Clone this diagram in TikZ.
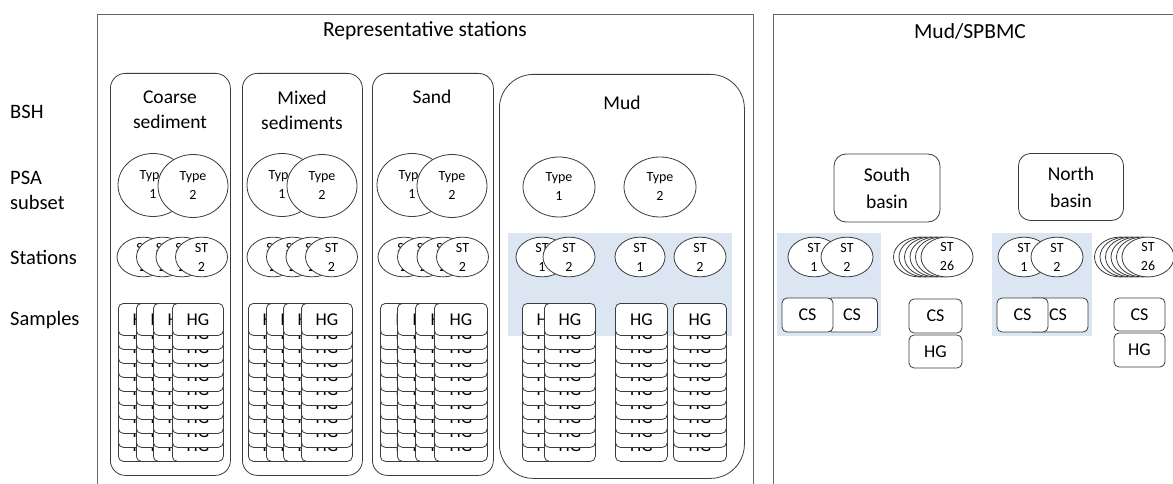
\documentclass[tikz,border=0pt]{standalone}
\usepackage{fontspec}
\setmainfont{Carlito}
\usetikzlibrary{shapes.geometric}
\definecolor{paleblue}{RGB}{220,230,242}
\definecolor{edge}{RGB}{60,60,60}
\begin{document}
\begin{tikzpicture}[x=1pt,y=-1pt,
  outerbox/.style={draw=black!60, line width=1.1pt, anchor=north west, inner sep=0pt},
  groupbox/.style={draw=edge, line width=0.8pt, rounded corners=15pt, anchor=north west, inner sep=0pt},
  bigtext/.style={font=\fontsize{19.5}{25}\selectfont, align=center, inner sep=0pt},
  titletext/.style={font=\fontsize{21.5}{25}\selectfont, align=center, inner sep=0pt},
  rowlabel/.style={font=\fontsize{20.5}{25}\selectfont, align=left, anchor=west, inner sep=0pt},
  typecirc/.style={ellipse, draw=edge, line width=0.8pt, fill=white, minimum width=70pt, minimum height=63pt, inner sep=0pt, align=center, font=\fontsize{14}{19}\selectfont},
  stell/.style={ellipse, draw=edge, line width=0.8pt, fill=white, minimum width=52pt, minimum height=37pt, inner sep=0pt, align=center, font=\fontsize{14}{19}\selectfont},
  hgbox/.style={draw=edge, line width=0.8pt, fill=white, rounded corners=5pt, minimum width=51pt, minimum height=32pt, inner sep=0pt, anchor=north west, font=\fontsize{18}{20}\selectfont},
  csbox/.style={draw=edge, line width=0.8pt, fill=white, rounded corners=5pt, minimum height=34pt, inner sep=0pt, font=\fontsize{18}{20}\selectfont},
  bluebg/.style={fill=paleblue, draw=none, anchor=north west, inner sep=0pt}
]
\useasboundingbox (0,0) rectangle (1173,484);
\fill[white] (0,0) rectangle (1173,484);

% outer boxes
\node[outerbox, minimum width=656pt, minimum height=490pt] (rep) at (97,14) {};
\node[outerbox, minimum width=420pt, minimum height=490pt] (mudsp) at (773,14) {};
\node[titletext] (reptitle) at (425,31) {Representative stations};
\node[titletext] (mudsptitle) at (970,31) {Mud/SPBMC};

% row labels
\node[rowlabel] (lbsh) at (10,112) {BSH};
\node[rowlabel] (lpsa) at (10,190) {PSA\\subset};
\node[rowlabel] (lst) at (10,257) {Stations};
\node[rowlabel] (lsa) at (10,320) {Samples};

% group boxes
\node[groupbox, minimum width=120pt, minimum height=402pt] (coarse) at (110,73) {};
\node[groupbox, minimum width=120pt, minimum height=402pt] (mixed) at (242,73) {};
\node[groupbox, minimum width=121pt, minimum height=402pt] (sand) at (372,73) {};
\node[groupbox, rounded corners=34pt, minimum width=245pt, minimum height=404pt] (mud) at (499,74) {};
\node[bigtext] (tcoarse) at (170,110) {Coarse\\sediment};
\node[bigtext] (tmixed) at (302,110) {Mixed\\sediments};
\node[bigtext] (tsand) at (432,97) {Sand};
\node[bigtext] (tmud) at (622,103) {Mud};

% blue highlight
\node[bluebg, minimum width=224pt, minimum height=103pt] (bmud) at (508,233) {};
\node[bluebg, minimum width=104pt, minimum height=103pt] (bsouth) at (777,233) {};
\node[bluebg, minimum width=100pt, minimum height=103pt] (bnorth) at (992,233) {};

% basin boxes
\node[draw=edge, line width=0.8pt, rounded corners=12pt, minimum width=106pt, minimum height=68pt, inner sep=0pt, align=center, font=\fontsize{19.5}{27}\selectfont] (south) at (887,188) {South\\basin};
\node[draw=edge, line width=0.8pt, rounded corners=12pt, minimum width=105pt, minimum height=67pt, inner sep=0pt, align=center, font=\fontsize{19.5}{27}\selectfont] (north) at (1071,187) {North\\basin};

% PSA subset circles
\node[typecirc] (c1a) at (153,185) {Type\\1};
\node[typecirc] (c1b) at (193,186) {Type\\2};
\node[typecirc] (c2a) at (282,185) {Type\\1};
\node[typecirc] (c2b) at (322,186) {Type\\2};
\node[typecirc] (c3a) at (412,185) {Type\\1};
\node[typecirc] (c3b) at (452,186) {Type\\2};
\node[typecirc, minimum width=72pt, minimum height=60pt] (c4a) at (559,187) {Type\\1};
\node[typecirc, minimum width=72pt, minimum height=60pt] (c4b) at (660,187) {Type\\2};

% stations
\foreach \g/\x in {a/143, b/273, c/404} {
  \foreach \i in {0,1,2,3} {
    \node[stell] (st-\g-\i) at ({\x+19.5*\i},257) {ST\\2};
  }
}
\node[stell] (m1) at (542,257) {ST\\1};
\node[stell] (m2) at (569,257) {ST\\2};
\node[stell, minimum width=50pt] (m3) at (640,257) {ST\\1};
\node[stell] (m4) at (700,257) {ST\\2};
\node[stell] (s1) at (814,257) {ST\\1};
\node[stell] (s2) at (847,257) {ST\\2};
\node[stell] (n1) at (1024,257) {ST\\1};
\node[stell] (n2) at (1057,257) {ST\\2};
\foreach \i in {5,4,3,2,1,0} {
  \node[stell] (s26-\i) at ({947-5.5*\i},257) {ST\\26};
  \node[stell] (n26-\i) at ({1148-5.5*\i},257) {ST\\26};
}

% HG stacks
\foreach \nm/\xl/\w in {a0/118/51, a1/136/51, a2/153/51, a3/172/51,
                        b0/248/51, b1/266/51, b2/283/51, b3/301/51,
                        c0/380/53, c1/397/53, c2/415/53, c3/434/53,
                        d0/522/51, d1/544/51, d2/615/52, d3/673/53} {
  \foreach \k in {9,8,...,0} {
    \node[hgbox, minimum width=\w pt] (hg-\nm-\k) at (\xl,{303+14*\k}) {HG};
  }
}

% CS / HG samples in Mud/SPBMC
\node[csbox, minimum width=51pt] (scs2) at (852,315) {CS};
\node[csbox, minimum width=51pt] (scs1) at (807.5,315) {CS};
\node[csbox, minimum width=53pt] (scs3) at (935.5,316) {CS};
\node[csbox, minimum width=53pt, minimum height=33pt] (shg) at (935.5,351.5) {HG};
\node[csbox, minimum width=60pt] (ncs2) at (1058,315) {CS};
\node[csbox, minimum width=51pt] (ncs1) at (1022.5,315) {CS};
\node[csbox, minimum width=51pt, minimum height=33pt] (ncs3) at (1139.5,314.5) {CS};
\node[csbox, minimum width=51pt, minimum height=34pt] (nhg) at (1139.5,350) {HG};
\end{tikzpicture}
\end{document}
